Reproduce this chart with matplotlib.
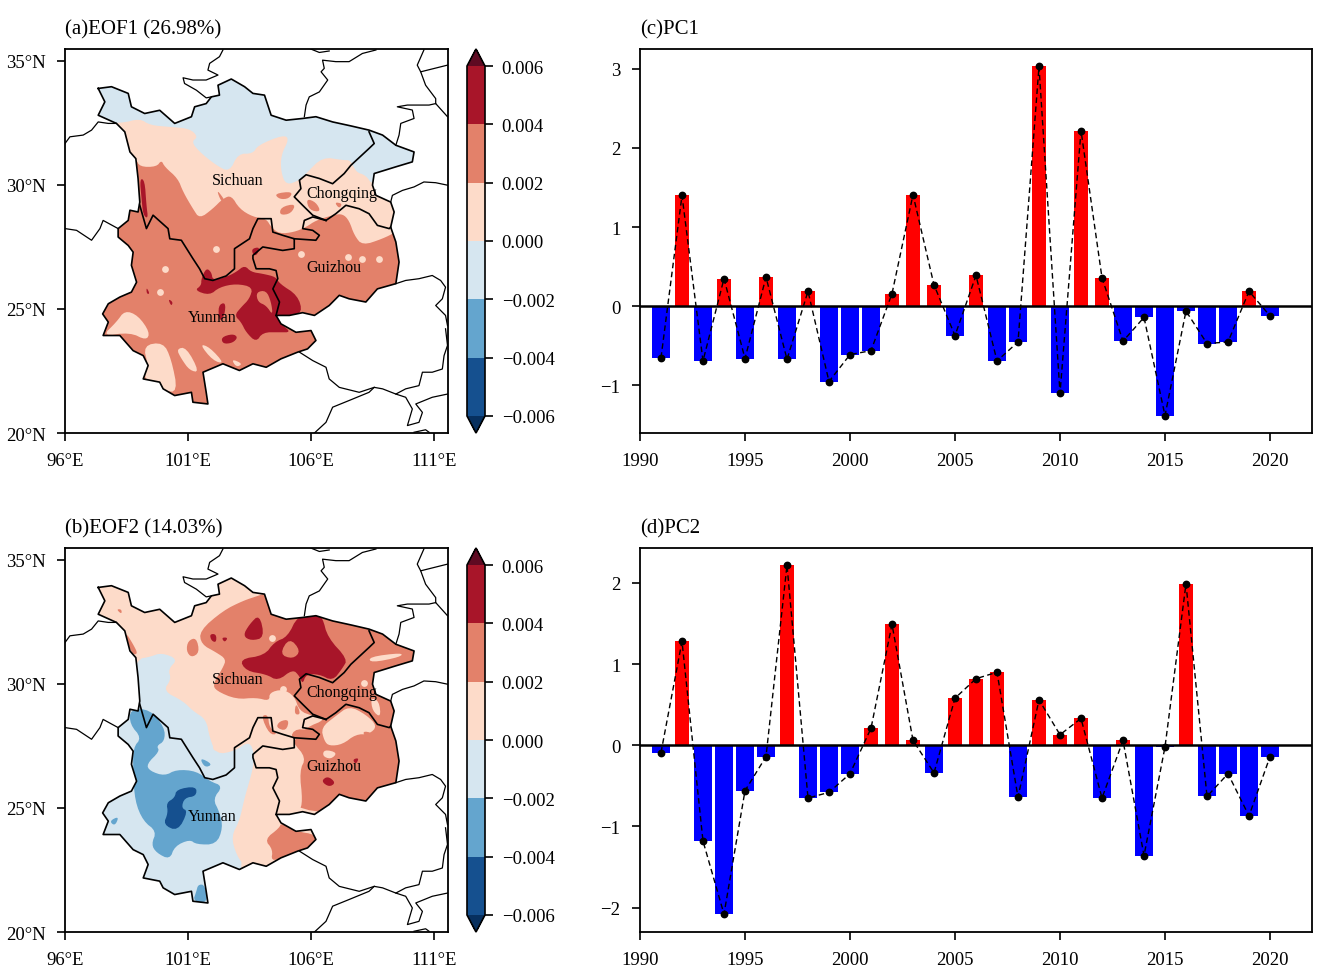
import matplotlib
matplotlib.use('Agg')
import matplotlib.pyplot as plt
from matplotlib.colors import BoundaryNorm, ListedColormap
from matplotlib.cm import ScalarMappable
from matplotlib.patches import Polygon

plt.rcParams['font.family'] = ['Liberation Serif', 'DejaVu Serif']

# principal components
years = list(range(1991, 2021))
pc1 = [-0.65, 1.40, -0.69, 0.35, -0.66, 0.37, -0.67, 0.19, -0.95, -0.61,
       -0.56, 0.16, 1.41, 0.27, -0.37, 0.39, -0.69, -0.45, 3.03, -1.10,
       2.22, 0.36, -0.44, -0.14, -1.38, -0.06, -0.47, -0.45, 0.19, -0.12]
pc2 = [-0.09, 1.28, -1.18, -2.08, -0.56, -0.14, 2.22, -0.65, -0.58, -0.35,
       0.21, 1.49, 0.06, -0.34, 0.58, 0.82, 0.90, -0.64, 0.56, 0.13,
       0.33, -0.65, 0.06, -1.36, -0.02, 1.99, -0.63, -0.35, -0.87, -0.14]

levels = [-0.006, -0.004, -0.002, 0.0, 0.002, 0.004, 0.006]
level_colors = ['#15508f', '#64a5ce', '#d6e6f0', '#fddbc9', '#e3816a', '#a81529']
under_color = '#07305f'
over_color = '#5f0a22'

# study area outline, lon/lat
region = [(97.35, 33.89), (97.89, 33.96), (98.57, 33.69), (98.70, 33.15), (99.24, 32.88), (99.85, 33.01),
          (100.46, 32.48), (101.14, 32.75), (101.27, 33.15), (101.74, 33.28), (101.95, 33.55), (102.28, 33.62),
          (102.22, 34.02), (102.76, 34.27), (103.30, 33.96), (103.64, 33.69), (104.11, 33.62), (104.38, 32.81),
          (104.99, 32.61), (105.66, 32.68), (106.20, 32.75), (106.88, 32.54), (107.62, 32.38), (108.36, 32.21),
          (108.91, 32.01), (109.45, 31.60), (110.19, 31.33), (110.12, 30.93), (109.45, 30.73), (108.57, 30.46),
          (108.50, 29.99), (108.64, 29.58), (109.24, 29.31), (109.38, 28.91), (109.24, 28.30), (109.45, 27.70),
          (109.58, 26.89), (109.45, 26.02), (108.70, 25.81), (108.23, 25.28), (107.55, 25.41), (107.15, 25.55),
          (106.74, 25.14), (106.14, 24.74), (105.66, 24.85), (105.12, 24.74), (104.58, 24.74), (104.78, 24.40),
          (105.39, 24.06), (106.00, 24.13), (106.20, 23.73), (105.86, 23.39), (105.46, 23.26), (104.78, 22.99),
          (104.18, 22.65), (103.64, 22.79), (103.09, 22.52), (102.42, 22.79), (101.61, 22.45), (101.74, 21.64),
          (101.81, 21.17), (101.20, 21.24), (101.14, 21.64), (100.46, 21.51), (99.99, 21.78), (99.85, 22.05),
          (99.18, 22.18), (99.38, 22.72), (99.18, 23.12), (98.77, 23.32), (98.23, 23.93), (97.55, 23.93),
          (97.76, 24.47), (97.53, 24.80), (97.76, 25.21), (98.23, 25.48), (98.70, 25.68), (98.91, 26.08),
          (98.70, 26.76), (98.77, 27.29), (98.57, 27.56), (98.16, 27.90), (98.16, 28.24), (98.57, 28.57),
          (98.64, 28.98), (98.97, 28.91), (99.04, 29.31), (98.97, 30.26), (98.88, 31.06), (98.64, 31.33),
          (98.43, 32.14), (98.09, 32.48), (97.35, 32.81), (97.62, 33.35)]

# province borders inside the study area
inner_borders = [
    [(99.04, 29.18), (99.31, 28.24), (99.58, 28.78), (100.19, 28.24), (100.26, 27.83), (100.73, 27.77),
     (101.20, 27.03), (101.47, 26.62), (101.68, 26.22), (102.01, 26.15), (102.55, 26.33), (102.89, 26.62),
     (102.89, 27.43), (103.50, 27.83), (103.64, 28.24), (103.84, 28.64), (104.38, 28.64), (104.45, 28.10),
     (104.85, 27.97), (105.32, 27.83), (105.32, 27.43), (104.85, 27.36), (104.04, 27.50), (103.64, 27.16),
     (103.64, 27.03), (103.77, 26.62), (104.31, 26.62), (104.58, 26.55), (104.65, 26.22), (104.45, 25.81),
     (104.72, 25.28), (104.58, 24.74)],
    [(105.32, 27.83), (106.20, 27.77), (106.34, 27.97), (106.07, 28.17), (105.66, 28.24), (105.73, 28.57),
     (106.07, 28.71), (106.61, 28.57)],
    [(106.61, 28.57), (106.07, 28.78), (105.66, 29.18), (105.32, 29.52), (105.59, 29.85), (105.53, 30.19),
     (105.80, 30.41), (106.34, 30.26), (106.88, 30.05), (107.35, 30.46), (107.62, 30.79), (108.36, 31.47),
     (108.57, 31.67), (108.36, 32.14)],
    [(106.61, 28.57), (107.01, 28.84), (107.42, 29.18), (107.96, 29.04), (108.36, 28.84), (108.70, 28.37),
     (109.18, 28.24), (109.24, 28.30)],
]

# neighbouring province borders and coast
outer_borders = [
    [(96.00, 31.67), (96.20, 31.94), (96.74, 32.01), (97.08, 32.21), (97.35, 32.54), (97.76, 32.48), (98.09, 32.48)],
    [(96.00, 28.24), (96.47, 28.17), (97.08, 27.77), (97.42, 28.24), (97.55, 28.57), (98.16, 28.24)],
    [(102.42, 35.44), (102.28, 35.17), (101.88, 34.90), (101.81, 34.63), (102.22, 34.43), (101.74, 34.23),
     (101.20, 34.23), (100.80, 34.32), (100.86, 34.09), (101.34, 33.82), (101.74, 33.51), (101.95, 33.55)],
    [(105.99, 35.48), (106.34, 35.34), (106.74, 35.40)],
    [(108.64, 35.44), (108.09, 35.30), (107.55, 34.97), (107.01, 34.97), (106.47, 35.03), (106.54, 34.70),
     (106.41, 34.56), (106.68, 34.23), (106.34, 33.75), (105.93, 33.55), (105.80, 33.22), (105.73, 32.75)],
    [(109.45, 31.60), (109.58, 32.01), (109.65, 32.48), (110.19, 32.68), (110.12, 33.02), (109.51, 33.15),
     (109.92, 33.22), (110.80, 33.22), (111.07, 33.28), (111.55, 32.75)],
    [(110.59, 35.44), (110.32, 34.83), (110.46, 34.56), (111.55, 34.83)],
    [(110.46, 34.56), (110.66, 34.02), (111.07, 33.48), (111.07, 33.28)],
    [(109.24, 29.31), (109.31, 29.58), (109.72, 29.78), (110.19, 29.92), (110.59, 30.12), (111.07, 30.09),
     (111.55, 29.99)],
    [(109.45, 26.02), (109.85, 26.15), (110.39, 26.22), (110.93, 26.35), (111.27, 26.15), (111.47, 25.88),
     (111.34, 25.41), (111.07, 25.14), (111.47, 24.74), (111.55, 24.33)],
    [(111.47, 24.20), (111.55, 23.53), (111.41, 23.12), (111.34, 22.58), (110.93, 22.45), (110.53, 22.45),
     (110.39, 21.91), (109.85, 21.78), (109.45, 21.57), (108.91, 21.78), (108.57, 21.84), (107.96, 21.64),
     (107.15, 21.84), (106.74, 22.18), (106.61, 22.65), (106.07, 22.92), (105.53, 23.26)],
    [(106.14, 20.00), (106.61, 20.43), (106.88, 21.04), (107.55, 21.31), (108.36, 21.64), (108.57, 21.84)],
    [(111.55, 21.57), (110.93, 21.44), (110.26, 21.17), (110.53, 20.83), (110.39, 20.43), (109.92, 20.30),
     (110.12, 20.97), (109.85, 21.44), (109.45, 21.57)],
    [(110.19, 20.03), (110.66, 20.13), (110.80, 20.03)],
]

# EOF1 pattern, regions by colour class (index into level_colors)
eof1_base = 4
eof1_areas = [
    (3, [(96.5, 34.8), (111.5, 34.8), (111.5, 29.18), (109.45, 28.10), (108.91, 27.83), (108.09, 27.56),
         (107.76, 27.97), (107.55, 28.57), (107.28, 28.84), (106.88, 28.78), (106.20, 28.57), (105.80, 28.30),
         (105.32, 28.10), (104.72, 28.03), (104.38, 28.30), (104.18, 28.64), (103.64, 28.71), (103.09, 29.04),
         (102.76, 29.58), (102.42, 29.45), (102.01, 29.04), (101.47, 28.64), (101.20, 29.04), (100.80, 29.72),
         (100.59, 30.26), (100.05, 30.73), (99.92, 31.00), (99.72, 30.73), (99.04, 30.73), (98.88, 31.06),
         (96.5, 31.5)]),
    (2, [(96.5, 32.5), (98.30, 32.48), (99.04, 32.68), (99.45, 32.41), (100.26, 32.34), (101.07, 32.27),
         (101.41, 31.94), (101.14, 31.74), (101.47, 31.33), (102.15, 30.79), (102.69, 30.52), (103.03, 31.26),
         (103.64, 31.26), (103.84, 31.60), (104.85, 32.01), (105.12, 31.87), (104.78, 31.20), (104.78, 30.52),
         (104.99, 29.99), (105.53, 30.19), (105.80, 30.46), (106.47, 31.13), (107.28, 31.00), (107.62, 31.00),
         (107.82, 30.52), (108.23, 30.39), (108.50, 29.99), (108.91, 30.52), (111.5, 31.0), (111.5, 34.8),
         (96.5, 34.8)]),
    (3, [(98.43, 24.94), (98.97, 24.74), (99.45, 24.06), (99.31, 23.73), (98.64, 24.06), (97.5, 23.9), (98.09, 24.47)]),
    (3, [(99.18, 23.53), (99.99, 23.66), (100.32, 22.99), (100.59, 21.64), (99.99, 21.71), (99.18, 22.18), (99.38, 22.72)]),
    (3, [(100.53, 23.39), (100.93, 23.46), (101.47, 22.45), (101.07, 22.52), (100.73, 22.99)]),
    (3, [(101.47, 23.59), (101.88, 23.46), (102.49, 22.79), (102.01, 22.92)]),
    (3, [(102.76, 22.99), (103.23, 22.79), (102.96, 22.65)]),
    (4, [(104.51, 29.65), (105.26, 29.74), (105.12, 29.45), (104.72, 29.42)]),
    (4, [(104.78, 29.11), (105.39, 29.25), (105.19, 28.84), (104.72, 28.78)]),
    (4, [(105.80, 29.45), (106.20, 29.31), (106.41, 28.91), (105.93, 28.98)]),
    (4, [(106.95, 29.31), (107.28, 29.25), (107.15, 29.04)]),
    (4, [(102.15, 29.85), (102.55, 29.31), (102.35, 29.31)]),
    (5, [(99.04, 30.26), (99.24, 30.19), (99.31, 29.18), (99.38, 28.64), (99.18, 28.78), (99.11, 29.45)]),
    (5, [(101.27, 25.75), (101.54, 25.95), (101.54, 26.22), (101.74, 26.65), (101.95, 26.49), (102.01, 26.15),
         (102.55, 26.29), (102.96, 26.49), (103.30, 26.76), (103.57, 26.49), (104.04, 26.42), (104.58, 26.29),
         (104.72, 26.02), (105.46, 25.55), (105.66, 24.85), (105.12, 24.74), (104.58, 24.74), (104.78, 24.40),
         (105.19, 24.06), (104.72, 24.06), (104.04, 24.06), (103.77, 23.66), (103.36, 24.06), (103.16, 24.47),
         (102.89, 24.74), (103.16, 25.07), (103.50, 25.41), (103.64, 25.88), (102.96, 26.02), (102.28, 25.88),
         (101.88, 25.55)]),
    (4, [(103.77, 25.68), (104.18, 25.75), (104.38, 25.28), (104.45, 24.74), (104.18, 25.14), (103.84, 25.28)]),
    (5, [(102.35, 23.86), (102.82, 24.00), (103.03, 23.86), (102.82, 23.63), (102.42, 23.59)]),
    (5, [(103.59, 27.43), (103.93, 27.50), (103.80, 27.16), (103.64, 27.19)]),
    (5, [(100.19, 25.41), (100.39, 25.28), (100.32, 25.11)]),
    (5, [(102.22, 25.14), (102.53, 25.28), (102.49, 24.74), (102.28, 24.47)]),
    (5, [(99.31, 25.88), (99.45, 25.61), (99.32, 25.61)]),
]
eof1_spots = [(3, 100.05, 26.62), (3, 99.88, 25.68), (3, 102.15, 27.43), (3, 105.59, 27.23),
              (3, 108.09, 27.02), (3, 107.49, 27.09), (3, 108.77, 27.00)]

# EOF2 pattern
eof2_base = 3
eof2_areas = [
    (2, [(98.93, 31.00), (99.45, 31.09), (99.92, 31.26), (100.59, 31.00), (100.19, 30.59), (100.32, 30.19),
         (99.99, 29.72), (100.80, 29.31), (101.20, 28.91), (101.74, 28.57), (101.88, 27.83), (102.15, 27.16),
         (102.89, 27.29), (103.50, 27.70), (103.70, 27.16), (103.64, 26.62), (103.50, 26.08), (103.30, 25.41),
         (103.09, 24.47), (102.76, 23.86), (102.96, 23.12), (103.30, 22.65), (102.15, 20.4), (96.7, 20.4),
         (96.7, 27.8), (98.5, 29.7)]),
    (1, [(98.64, 28.98), (99.45, 28.98), (100.05, 28.24), (100.05, 27.70), (99.72, 27.50), (99.85, 27.29),
         (99.31, 26.76), (99.45, 26.49), (100.05, 26.29), (100.53, 26.55), (101.34, 26.49), (101.88, 26.08),
         (102.42, 25.88), (102.01, 25.36), (102.28, 24.84), (102.42, 24.20), (102.15, 23.53), (101.34, 23.53),
         (101.07, 23.73), (100.46, 23.46), (100.26, 22.92), (99.72, 23.19), (99.51, 23.53), (99.72, 24.06),
         (99.18, 24.47), (98.84, 25.28), (98.77, 26.49), (98.77, 27.43), (99.11, 27.83), (98.64, 28.37)]),
    (1, [(101.47, 27.04), (102.01, 26.76), (101.68, 26.62)]),
    (1, [(97.80, 24.47), (98.20, 24.67), (98.03, 24.27)]),
    (1, [(101.41, 21.91), (101.68, 21.91), (101.81, 21.17), (101.20, 21.24), (101.34, 21.64)]),
    (0, [(100.53, 25.75), (101.34, 25.88), (101.34, 25.48), (100.86, 25.41), (100.73, 25.00), (101.00, 24.87),
         (100.59, 24.06), (99.99, 24.33), (100.19, 24.80), (100.12, 25.21), (100.46, 25.41)]),
    (4, [(101.47, 32.14), (102.42, 32.95), (103.23, 33.35), (103.84, 33.55), (104.04, 33.62), (111.5, 34.8),
         (111.5, 24.5), (105.53, 24.85), (105.66, 25.28), (105.53, 26.49), (105.80, 27.03), (105.26, 27.65),
         (105.39, 27.77), (105.80, 28.24), (106.61, 28.57), (106.07, 28.71), (105.53, 28.91), (105.32, 29.52),
         (104.85, 29.79), (104.31, 29.65), (104.31, 29.31), (103.77, 29.45), (102.96, 29.38), (102.15, 29.72),
         (102.01, 29.99), (102.42, 30.65), (102.55, 31.00), (102.15, 31.27), (101.54, 31.60)]),
    (3, [(106.41, 28.24), (107.01, 28.71), (107.55, 29.11), (108.23, 28.77), (108.70, 28.30), (108.36, 27.97),
         (107.82, 27.97), (107.28, 27.56), (106.74, 27.50), (106.54, 27.70)]),
    (4, [(108.09, 28.10), (108.50, 28.03), (108.23, 27.83)]),
    (3, [(108.36, 31.09), (109.71, 31.26), (109.65, 31.09), (108.43, 30.85)]),
    (3, [(106.54, 27.36), (107.08, 27.23), (106.81, 26.96), (106.47, 27.09)]),
    (3, [(108.43, 29.45), (108.77, 29.31), (108.84, 28.64), (108.50, 28.91)]),
    (4, [(104.11, 23.73), (104.72, 24.20), (104.78, 24.40), (105.39, 24.06), (106.20, 23.93), (106.20, 23.53),
         (104.85, 22.99), (104.38, 22.86), (104.45, 23.32)]),
    (4, [(101.00, 31.74), (101.34, 31.87), (101.47, 31.27), (101.14, 31.06), (100.93, 31.33)]),
    (4, [(98.09, 33.01), (98.30, 33.01), (98.30, 32.81)]),
    (4, [(98.43, 32.14), (98.77, 31.60), (98.97, 31.20), (98.70, 31.20)]),
    (4, [(103.97, 28.71), (104.25, 28.77), (104.31, 28.24), (104.65, 27.97), (104.31, 27.97)]),
    (4, [(104.72, 28.50), (105.12, 28.57), (104.99, 28.10), (104.58, 28.24)]),
    (4, [(105.39, 29.25), (105.59, 28.77), (105.32, 28.77)]),
    (4, [(105.39, 28.24), (106.34, 28.03), (106.27, 27.72), (105.12, 27.77)]),
    (5, [(105.46, 32.75), (106.20, 32.84), (106.47, 32.68), (106.68, 31.87), (107.49, 31.00), (107.28, 30.63),
         (106.88, 30.12), (106.34, 30.39), (105.80, 30.39), (105.66, 29.99), (105.53, 30.32), (105.26, 30.59),
         (104.65, 30.12), (104.18, 30.39), (103.36, 30.52), (103.09, 31.00), (104.11, 31.15), (104.51, 31.69),
         (105.05, 31.90)]),
    (4, [(105.12, 31.87), (105.59, 31.33), (105.26, 31.00), (104.72, 31.20)]),
    (5, [(103.50, 32.41), (103.91, 32.81), (104.11, 31.87), (103.57, 31.74), (103.23, 31.94)]),
    (5, [(101.88, 32.01), (102.15, 32.01), (102.15, 31.67), (101.95, 31.74)]),
    (5, [(102.36, 31.87), (102.63, 31.87), (102.49, 31.67)]),
    (5, [(106.41, 26.08), (106.68, 26.29), (107.01, 26.02), (106.74, 25.84)]),
    (5, [(107.69, 26.96), (107.96, 27.02), (107.82, 26.75)]),
]
eof2_spots = [(3, 104.42, 31.85), (3, 108.17, 30.05), (3, 104.85, 29.80), (3, 102.15, 27.45)]

province_names = ['Sichuan', 'Chongqing', 'Guizhou', 'Yunnan']
province_lons = [103.03, 107.26, 106.93, 102.00]
province_lats = [30.20, 29.68, 26.69, 24.68]

lon_ticks = [96, 101, 106, 111]
lat_ticks = [20, 25, 30, 35]
year_ticks = [1990, 1995, 2000, 2005, 2010, 2015, 2020]

W, H = 1330, 979
fig = plt.figure(figsize=(W / 100, H / 100), dpi=100)


def box(left, top, right, bottom):
    return [left / W, 1 - bottom / H, (right - left) / W, (bottom - top) / H]


# round the corners of a hand-read contour, contourf edges are not angular
def rounded(pts, passes=2):
    for _ in range(passes):
        out = []
        for i, (x0, y0) in enumerate(pts):
            x1, y1 = pts[(i + 1) % len(pts)]
            out.append((0.75 * x0 + 0.25 * x1, 0.75 * y0 + 0.25 * y1))
            out.append((0.25 * x0 + 0.75 * x1, 0.25 * y0 + 0.75 * y1))
        pts = out
    return pts


def draw_map(pos, cbar_pos, title, base, areas, spots):
    ax = fig.add_axes(box(*pos))
    outline = Polygon(region, closed=True, facecolor=level_colors[base], edgecolor='none', zorder=1)
    ax.add_patch(outline)
    for idx, pts in areas:
        p = Polygon(rounded(pts), closed=True, facecolor=level_colors[idx], edgecolor='none', zorder=2)
        ax.add_patch(p)
        p.set_clip_path(outline)
    for idx, lon, lat in spots:
        s = ax.scatter([lon], [lat], s=24, color=level_colors[idx], linewidths=0, zorder=3)
        s.set_clip_path(outline)
    for line in outer_borders:
        ax.plot(*zip(*line), color='k', lw=0.9, zorder=4)
    for line in inner_borders:
        ax.plot(*zip(*line), color='k', lw=1.2, zorder=5)
    closed = region + region[:1]
    ax.plot(*zip(*closed), color='k', lw=1.2, zorder=5)
    for name, lon, lat in zip(province_names, province_lons, province_lats):
        ax.text(lon, lat, name, fontsize=11.5, ha='center', va='center', zorder=6)
    ax.set_xlim(96, 111.57)
    ax.set_ylim(20, 35.48)
    ax.set_xticks(lon_ticks)
    ax.set_xticklabels(['%d°E' % v for v in lon_ticks])
    ax.set_yticks(lat_ticks)
    ax.set_yticklabels(['%d°N' % v for v in lat_ticks])
    style_axes(ax, title)

    cmap = ListedColormap(level_colors)
    cmap.set_under(under_color)
    cmap.set_over(over_color)
    norm = BoundaryNorm(levels, cmap.N)
    cax = fig.add_axes(box(*cbar_pos))
    cb = fig.colorbar(ScalarMappable(norm=norm, cmap=cmap), cax=cax, extend='both',
                      extendfrac=0.0486, ticks=levels)
    cb.ax.set_yticklabels(['%.3f' % v if v >= 0 else '\u2212%.3f' % abs(v) for v in levels])
    cb.ax.tick_params(labelsize=13.5, length=6, width=1.2, pad=6)
    cb.outline.set_linewidth(1.2)


def draw_pc(pos, title, values, ylim, yticks):
    ax = fig.add_axes(box(*pos))
    pos_y = [y for y, v in zip(years, values) if v >= 0]
    pos_v = [v for v in values if v >= 0]
    neg_y = [y for y, v in zip(years, values) if v < 0]
    neg_v = [v for v in values if v < 0]
    ax.bar(pos_y, pos_v, width=0.71, color='red', zorder=2)
    ax.bar(neg_y, neg_v, width=0.85, color='blue', zorder=2)
    ax.axhline(0, color='k', lw=1.8, zorder=3)
    ax.plot(years, values, color='k', ls='--', lw=1.0, dashes=(4, 2.5), marker='o', ms=4.6, zorder=4)
    ax.set_xlim(1990, 2022)
    ax.set_ylim(*ylim)
    ax.set_xticks(year_ticks)
    ax.set_yticks(yticks)
    ax.set_yticklabels([str(v) if v >= 0 else '\u2212%d' % abs(v) for v in yticks])
    style_axes(ax, title)


def style_axes(ax, title):
    ax.tick_params(labelsize=13.5, length=6, width=1.2)
    ax.tick_params(axis='x', pad=8)
    ax.tick_params(axis='y', pad=8)
    for sp in ax.spines.values():
        sp.set_linewidth(1.3)
    ax.set_title(title, loc='left', fontsize=15, pad=11)


draw_map((65, 50, 448, 434), (467, 50, 485, 434), '(a)EOF1 (26.98%)', eof1_base, eof1_areas, eof1_spots)
draw_map((65, 549, 448, 933), (467, 549, 485, 933), '(b)EOF2 (14.03%)', eof2_base, eof2_areas, eof2_spots)
draw_pc((640, 50, 1312, 434), '(c)PC1', pc1, (-1.6, 3.25), [-1, 0, 1, 2, 3])
draw_pc((640, 549, 1312, 933), '(d)PC2', pc2, (-2.3, 2.43), [-2, -1, 0, 1, 2])

fig.savefig('out.png', dpi=100)
